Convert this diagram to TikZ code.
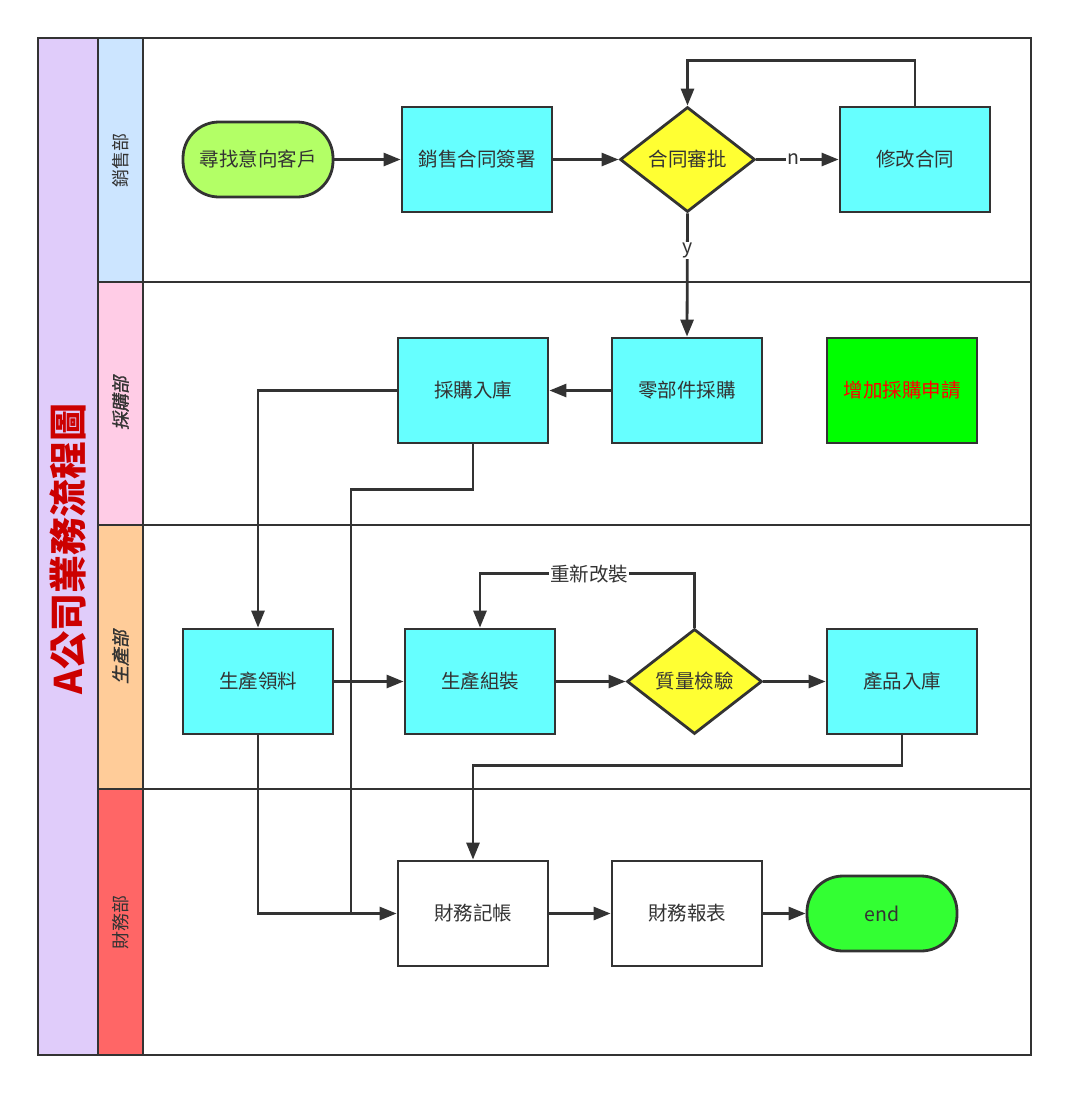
\documentclass[tikz,border=0pt]{standalone}
\usepackage{fontspec}
\setmainfont{Noto Sans CJK TC}
\newfontfamily\cjksl[FakeSlant=0.2,FakeBold=1.2]{Noto Sans CJK TC}
\usetikzlibrary{shapes.geometric,arrows.meta,calc}
\definecolor{ln}{HTML}{333333}
\definecolor{cyanbox}{HTML}{66FFFF}
\definecolor{yel}{HTML}{FFFF33}
\definecolor{titlebg}{HTML}{E0CCFA}
\definecolor{laneA}{HTML}{CCE5FF}
\definecolor{laneB}{HTML}{FFCCE6}
\definecolor{laneC}{HTML}{FFCC99}
\definecolor{laneD}{HTML}{FF6666}
\definecolor{titlered}{HTML}{CC0000}
\definecolor{startg}{HTML}{B3FF66}
\definecolor{endg}{HTML}{33FF33}
\definecolor{addg}{HTML}{00FF00}
\definecolor{addr}{HTML}{FF0000}
\tikzset{
  base/.style={draw=ln, line width=2.8pt, text=ln, font=\fontsize{19.5}{21}\selectfont, inner sep=0pt},
  proc/.style={base, rectangle, minimum width=150pt, minimum height=105pt, fill=cyanbox},
  wproc/.style={proc, fill=white},
  term/.style={base, rectangle, rounded corners=36pt, minimum width=150pt, minimum height=75pt},
  dec/.style={base, diamond, aspect=1.29, minimum width=135pt, minimum height=105pt, fill=yel},
  lane/.style={draw=ln, line width=2.8pt},
  arr/.style={draw=ln, line width=2.8pt, -{Triangle[length=17pt,width=13pt]}},
  conn/.style={draw=ln, line width=2.8pt},
  lbl/.style={fill=white, text=ln, font=\fontsize{19.5}{21}\selectfont, inner sep=1pt},
  lanelbl/.style={text=ln, rotate=90, font=\fontsize{18}{20}\selectfont},
}
\begin{document}
\begin{tikzpicture}[x=1pt,y=-1pt]
\useasboundingbox (0,0) rectangle (1068,1093);
% swimlanes
\draw[lane, fill=titlebg] (38,38) rectangle (98,1055);
\draw[lane, fill=laneA] (98,38) rectangle (143,282);
\draw[lane, fill=laneB] (98,282) rectangle (143,525);
\draw[lane, fill=laneC] (98,525) rectangle (143,789);
\draw[lane, fill=laneD] (98,789) rectangle (143,1055);
\draw[lane] (143,38) rectangle (1031,282);
\draw[lane] (143,282) rectangle (1031,525);
\draw[lane] (143,525) rectangle (1031,789);
\draw[lane] (143,789) rectangle (1031,1055);
\node[rotate=90, text=titlered, font=\bfseries\fontsize{38}{42}\selectfont] (title) at (68,549) {A公司業務流程圖};
\node[lanelbl] (l1) at (120.5,160) {銷售部};
\node[lanelbl, font=\cjksl\fontsize{18}{20}\selectfont] (l2) at (120.5,403) {採購部};
\node[lanelbl, font=\cjksl\fontsize{18}{20}\selectfont] (l3) at (120.5,657) {生產部};
\node[lanelbl] (l4) at (120.5,922) {財務部};
% nodes
\node[term, fill=startg] (xz) at (258,159.5) {尋找意向客戶};
\node[proc] (qs) at (477,159.5) {銷售合同簽署};
\node[dec] (sp) at (687.5,159.5) {合同審批};
\node[proc] (xg) at (915,159.5) {修改合同};
\node[proc] (lb) at (687,390.5) {零部件採購};
\node[proc] (cg) at (473,390.5) {採購入庫};
\node[proc, fill=addg, text=addr] (zj) at (902,390.5) {增加採購申請};
\node[proc] (ll) at (258,681.5) {生產領料};
\node[proc] (zz) at (480,681.5) {生產組裝};
\node[dec] (jy) at (694.5,681.5) {質量檢驗};
\node[proc] (cp) at (902,681.5) {產品入庫};
\node[wproc] (cw) at (473,913.5) {財務記帳};
\node[wproc] (bb) at (687,913.5) {財務報表};
\node[term, fill=endg] (en) at (882,913.5) {end};
\coordinate (j1) at (351,913.5);
% connectors
\draw[arr] (xz) -- (qs);
\draw[arr] (qs) -- (sp);
\draw[arr] (sp.east) -- node[lbl, pos=0.45]{n} (xg.west);
\draw[arr] (xg.north) -- ++(0,-45) -| (sp.north);
\draw[arr] (sp.south) -- node[lbl, pos=0.3]{y} (lb.north);
\draw[arr] (lb) -- (cg);
\draw[arr] (cg.west) -| (ll.north);
\draw[conn] (cg.south) -- ++(0,45) -| (j1);
\draw[arr] (ll.south) |- (cw.west);
\draw[arr] (ll) -- (zz);
\draw[arr] (zz) -- (jy);
\draw[arr] (jy.north) -- ++(0,-54) -- node[lbl, pos=0.49]{重新改裝} ($(zz.north)+(0,-54)$) -- (zz.north);
\draw[arr] (jy) -- (cp);
\draw[arr] (cp.south) -- ++(0,30) -| (cw.north);
\draw[arr] (cw) -- (bb);
\draw[arr] (bb) -- (en);
\end{tikzpicture}
\end{document}
